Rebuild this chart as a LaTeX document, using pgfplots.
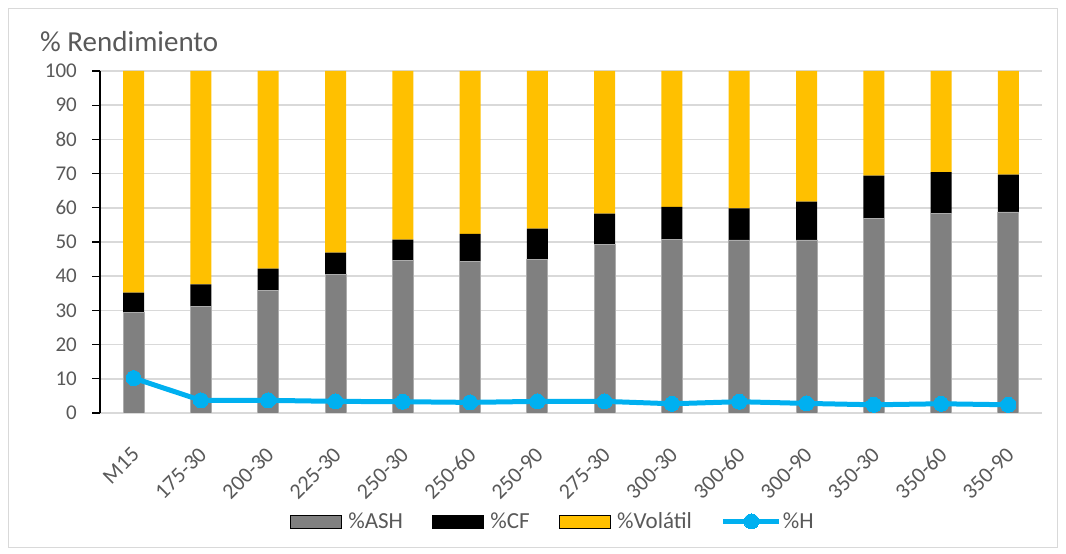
\documentclass[border=0pt]{standalone}
\usepackage{fontspec}
\setmainfont{Carlito}
\usepackage{pgfplots}
\usepackage{pgfplotstable}
\pgfplotsset{compat=1.18}

\definecolor{ashgray}{HTML}{808080}
\definecolor{volyellow}{HTML}{FFC000}
\definecolor{hblue}{HTML}{00B0F0}
\definecolor{gridgray}{HTML}{D9D9D9}
\definecolor{labelgray}{HTML}{595959}

% Yield per sample: ash, fixed carbon, volatiles (stacked to 100) and moisture
\pgfplotstableread{
idx ash  cf   vol  h
0   29.3 5.9  64.8 10.2
1   31.2 6.4  62.4 3.7
2   35.8 6.4  57.8 3.7
3   40.6 6.3  53.1 3.4
4   44.5 6.2  49.3 3.3
5   44.2 8.2  47.6 3.1
6   44.8 9.1  46.1 3.4
7   49.2 9.1  41.7 3.4
8   50.7 9.6  39.7 2.7
9   50.6 9.2  40.2 3.3
10  50.6 11.2 38.2 2.8
11  56.9 12.5 30.6 2.4
12  58.4 12.0 29.6 2.7
13  58.8 10.9 30.3 2.4
}\datatable

\pgfplotsset{
  common/.style={
    scale only axis, width=942pt, height=342pt,
    xmin=-0.5, xmax=13.5, ymin=0, ymax=100,
    at={(100pt,141pt)}, anchor=south west,
  },
  /pgfplots/bar legend wide/.style={
    /pgfplots/legend image code/.code={\fill[##1] (0pt,-6.5pt) rectangle (51pt,6.5pt);}
  },
  /pgfplots/line legend wide/.style={
    /pgfplots/legend image code/.code={\draw[mark repeat=2,mark phase=2,##1] plot coordinates {(0pt,0pt)(28pt,0pt)(56pt,0pt)};}
  },
}

\begin{document}
\begin{tikzpicture}[x=1pt,y=1pt]
\useasboundingbox (0,0) rectangle (1066,554);
\draw[gridgray, line width=1pt] (8.5,6.5) rectangle (1057.5,545.5);
\node[anchor=base west, text=labelgray, inner sep=0pt, font=\fontsize{29}{35}\selectfont] at (40,502) {\% Rendimiento};

\begin{axis}[common,
  ybar stacked, bar width=21pt,
  axis x line*=bottom, axis y line*=left,
  x axis line style={gridgray, line width=1.5pt, -},
  y axis line style={black, line width=1.2pt, -},
  ytick={0,10,...,100},
  ymajorgrids, major grid style={gridgray, line width=1.5pt},
  xtick={0,...,13},
  xticklabels={M15,175-30,200-30,225-30,250-30,250-60,250-90,275-30,300-30,300-60,300-90,350-30,350-60,350-90},
  x tick style={draw=none},
  y tick style={black, line width=1.2pt},
  tick align=outside, major tick length=8pt,
  ticklabel style={font=\fontsize{21}{25}\selectfont, text=labelgray},
  /pgf/number format/assume math mode=true,
  yticklabel style={anchor=east, inner sep=0pt, xshift=-15pt},
  xticklabel style={inner sep=0pt, font=\fontsize{22}{26}\selectfont, xshift=2pt, yshift=-30pt, rotate=45, anchor=east},
]
\addplot[fill=ashgray, draw=gray!65, line width=0.8pt] table[x=idx,y=ash]{\datatable};
\addplot[fill=black, draw=none] table[x=idx,y=cf]{\datatable};
\addplot[fill=volyellow, draw=none] table[x=idx,y=vol]{\datatable};
\end{axis}

\begin{axis}[common, hide axis,
  legend columns=4,
  legend style={draw=none, fill=none, inner sep=0pt, outer sep=0pt,
    at={(axis description cs:0.2017,-0.317)}, anchor=west,
    font=\fontsize{23}{27}\selectfont, text=labelgray,
    /tikz/every odd column/.append style={column sep=5pt},
    /tikz/every even column/.append style={column sep=27pt}},
]
\addlegendimage{bar legend wide, fill=ashgray}
\addlegendentry{\%ASH}
\addlegendimage{bar legend wide, fill=black}
\addlegendentry{\%CF}
\addlegendimage{bar legend wide, fill=volyellow}
\addlegendentry{\%Volátil\hspace{-7pt}}
\addplot[line legend wide, hblue, line width=5pt, mark=*, mark size=7.5pt,
  mark options={fill=hblue, draw=hblue, line width=0pt}]
  table[x=idx,y=h]{\datatable};
\addlegendentry{\hspace{-6pt}\%H}
\end{axis}
\end{tikzpicture}
\end{document}
